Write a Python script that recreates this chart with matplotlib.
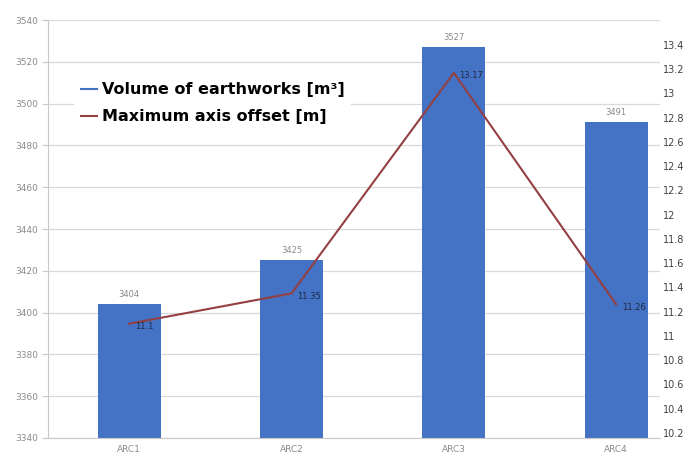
import matplotlib.pyplot as plt
import matplotlib.lines as mlines

categories = ["ARC1", "ARC2", "ARC3", "ARC4"]
volume = [3404, 3425, 3527, 3491]
offset = [11.1, 11.35, 13.17, 11.26]
offset_labels = ["11.1", "11.35", "13.17", "11.26"]

left_ticks = [3340, 3360, 3380, 3400, 3420, 3440, 3460, 3480, 3500, 3520, 3540]
right_ticks = [10.2, 10.4, 10.6, 10.8, 11, 11.2, 11.4, 11.6, 11.8, 12, 12.2, 12.4, 12.6, 12.8, 13, 13.2, 13.4]

bar_color = "#4472C4"
line_color = "#943F42"

fig = plt.figure(figsize=(6.94, 4.61), dpi=100)
ax1 = fig.add_axes([0.0692, 0.0499, 0.8818, 0.9067])
x = list(range(len(categories)))

ax1.bar(x, volume, width=0.39, color=bar_color, zorder=2)
ax1.set_ylim(3340, 3540)
ax1.set_xlim(-0.5, 3.27)
ax1.set_yticks(left_ticks)
ax1.set_yticklabels([str(t) for t in left_ticks])
ax1.set_xticks(x)
ax1.set_xticklabels(categories)
ax1.grid(axis="y", color="#d9d9d9", linewidth=0.9, zorder=0)
ax1.set_axisbelow(True)
for s in ["top", "right"]:
    ax1.spines[s].set_visible(False)
ax1.spines["left"].set_color("#c8c8c8")
ax1.spines["bottom"].set_color("#c8c8c8")
ax1.tick_params(axis="y", labelsize=6.5, labelcolor="#8a8a8a", color="#c8c8c8", length=4, pad=3)
ax1.tick_params(axis="x", labelsize=6.5, labelcolor="#8a8a8a", length=0, pad=5)

for xi, v in zip(x, volume):
    ax1.annotate(str(v), (xi, v), xytext=(0, 4), textcoords="offset points",
                 ha="center", va="bottom", fontsize=6, color="#8a8a8a")

ax2 = ax1.twinx()
ax2.plot(x, offset, color=line_color, linewidth=1.5, zorder=3)
ax2.set_ylim(10.157, 13.606)
ax2.set_yticks(right_ticks)
ax2.set_yticklabels([("%g" % t) for t in right_ticks])
for s in ["top", "right", "left", "bottom"]:
    ax2.spines[s].set_visible(False)
ax2.tick_params(axis="y", labelsize=7, labelcolor="#404040", length=0, pad=2)

for xi, v, lab in zip(x, offset, offset_labels):
    ax2.annotate(lab, (xi, v), xytext=(4, -2), textcoords="offset points",
                 ha="left", va="center", fontsize=6, color="#1f2a44")

h1 = mlines.Line2D([], [], color=bar_color, linewidth=1.5)
h2 = mlines.Line2D([], [], color=line_color, linewidth=1.5)
leg = ax2.legend([h1, h2], ["Volume of earthworks [m\u00b3]", "Maximum axis offset [m]"],
                 loc="upper left", bbox_to_anchor=(0.03, 0.885), frameon=True,
                 handlelength=1.0, handletextpad=0.3, labelspacing=0.75,
                 prop={"weight": "bold", "size": 11.5})
leg.get_frame().set_facecolor("white")
leg.get_frame().set_edgecolor("none")
leg.get_frame().set_alpha(1)

fig.savefig("out.png", dpi=100)
